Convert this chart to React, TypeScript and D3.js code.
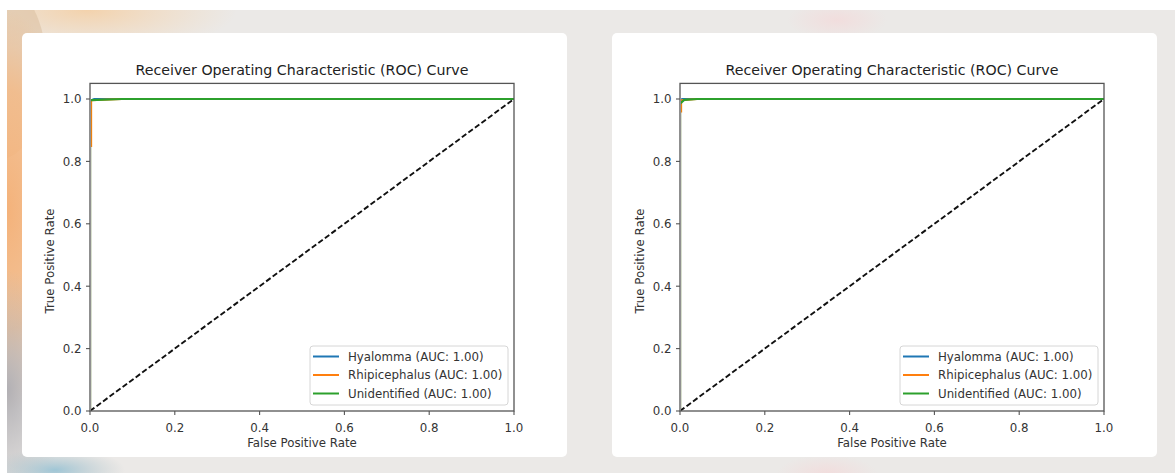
import React from 'react';
import * as d3 from 'd3';

// ROC curves (fpr / tpr pairs)
const classNames = ['Hyalomma', 'Rhipicephalus', 'Unidentified'];
const aucValues = [1.0, 1.0, 1.0];
const classColors = ['#1f77b4', '#ff7f0e', '#2ca02c'];

const leftFpr = [
  [0, 0, 0.002, 0.01, 1],
  [0, 0, 0.0025, 0.0025, 0.075, 1],
  [0, 0, 0.075, 1],
];
const leftTpr = [
  [0, 0.98, 0.995, 1, 1],
  [0, 0.85, 0.85, 0.996, 1.0, 1],
  [0, 0.996, 1.0, 1],
];

const rightFpr = [
  [0, 0, 0.005, 1],
  [0, 0, 0.0025, 0.0025, 0.04, 1],
  [0, 0, 0.01, 0.04, 1],
];
const rightTpr = [
  [0, 0.99, 1, 1],
  [0, 0.96, 0.96, 0.996, 1, 1],
  [0, 0.985, 0.997, 1, 1],
];

const tickValues = [0, 0.2, 0.4, 0.6, 0.8, 1.0];
const chartTitle = 'Receiver Operating Characteristic (ROC) Curve';
const xLabel = 'False Positive Rate';
const yLabel = 'True Positive Rate';

const FONT = 'DejaVu Sans, sans-serif';
const FS = 11.8;

interface PanelProps {
  id: string;
  cardX: number;
  axX: number;
  legendX: number;
  fpr: number[][];
  tpr: number[][];
}

const Panel: React.FC<PanelProps> = ({ id, cardX, axX, legendX, fpr, tpr }) => {
  const x = d3.scaleLinear().domain([0, 1]).range([axX, axX + 424]);
  const y = d3.scaleLinear().domain([0, 1.05]).range([411, 411 - 312 * 1.05]);
  const line = d3.line<[number, number]>().x(d => x(d[0])).y(d => y(d[1]));
  const [x0, x1] = x.range();
  const [y0, y1] = y.range();

  return (
    <g>
      <defs>
        <clipPath id={'clip' + id}>
          <rect x={x0 + 1} y={y1} width={x1 - x0 - 1} height={y0 - y1} />
        </clipPath>
      </defs>
      <rect x={cardX} y={33} width={545} height={424} rx={5} fill="#ffffff" />
      <text x={(x0 + x1) / 2} y={75} textAnchor="middle" fontSize={14.2} fill="#222" fontFamily={FONT}>
        {chartTitle}
      </text>

      <g clipPath={`url(#clip${id})`}>
        {classNames.map((name, i) => (
          <path
            key={name}
            d={line(fpr[i].map((f, j) => [f, tpr[i][j]] as [number, number])) || ''}
            fill="none"
            stroke={classColors[i]}
            strokeWidth={2.2}
          />
        ))}
        <path
          d={line([[0, 0], [1, 1]]) || ''}
          fill="none"
          stroke="#111"
          strokeWidth={1.9}
          strokeDasharray="5.5,2.6"
        />
      </g>

      {/* spines */}
      <rect x={x0} y={y1} width={x1 - x0} height={y0 - y1} fill="none" stroke="#555" strokeWidth={1.3} />

      {tickValues.map(t => (
        <g key={'x' + t}>
          <line x1={x(t)} x2={x(t)} y1={y0} y2={y0 + 4} stroke="#555" strokeWidth={1.1} />
          <text x={x(t)} y={y0 + 20.5} textAnchor="middle" fontSize={FS} fill="#333" fontFamily={FONT}>
            {t.toFixed(1)}
          </text>
        </g>
      ))}
      {tickValues.map(t => (
        <g key={'y' + t}>
          <line x1={x0 - 4} x2={x0} y1={y(t)} y2={y(t)} stroke="#555" strokeWidth={1.1} />
          <text x={x0 - 8.5} y={y(t) + 4.3} textAnchor="end" fontSize={FS} fill="#333" fontFamily={FONT}>
            {t.toFixed(1)}
          </text>
        </g>
      ))}

      <text x={(x0 + x1) / 2} y={447} textAnchor="middle" fontSize={FS} fill="#333" fontFamily={FONT}>
        {xLabel}
      </text>
      <text
        transform={`translate(${axX - 36},${(y0 + y(1)) / 2 + 6}) rotate(-90)`}
        textAnchor="middle"
        fontSize={FS}
        fill="#333"
        fontFamily={FONT}
      >
        {yLabel}
      </text>

      {/* legend */}
      <rect x={legendX} y={346} width={198} height={59} rx={3} fill="#fff" fillOpacity={0.85} stroke="#d6d6d6" strokeWidth={1} />
      {classNames.map((name, i) => (
        <g key={'lg' + name}>
          <line x1={legendX + 3} x2={legendX + 29} y1={356.5 + i * 18.5} y2={356.5 + i * 18.5} stroke={classColors[i]} strokeWidth={2} />
          <text x={legendX + 38} y={360.8 + i * 18.5} fontSize={FS} fill="#333" fontFamily={FONT}>
            {`${name} (AUC: ${aucValues[i].toFixed(2)})`}
          </text>
        </g>
      ))}
    </g>
  );
};

const App: React.FC = () => {
  return (
    <div style={{ position: 'fixed', left: 0, top: 0, width: 1175, height: 473 }}>
      <svg width={1175} height={473} style={{ display: 'block' }}>
        <defs>
          <radialGradient id="orangeBlob" cx="0.5" cy="0.5" r="0.5">
            <stop offset="0%" stopColor="#f4b27a" stopOpacity={1} />
            <stop offset="60%" stopColor="#f4b883" stopOpacity={0.8} />
            <stop offset="100%" stopColor="#f4b883" stopOpacity={0} />
          </radialGradient>
          <radialGradient id="peachBlob" cx="0.5" cy="0.5" r="0.5">
            <stop offset="0%" stopColor="#f3d2ac" stopOpacity={1} />
            <stop offset="100%" stopColor="#f3d8b8" stopOpacity={0} />
          </radialGradient>
          <radialGradient id="blueBlob" cx="0.5" cy="0.5" r="0.5">
            <stop offset="0%" stopColor="#9fc6d6" stopOpacity={1} />
            <stop offset="100%" stopColor="#b8c4c8" stopOpacity={0} />
          </radialGradient>
          <radialGradient id="grayBlob" cx="0.5" cy="0.5" r="0.5">
            <stop offset="0%" stopColor="#b2b0b4" stopOpacity={1} />
            <stop offset="100%" stopColor="#b8b6b8" stopOpacity={0} />
          </radialGradient>
          <radialGradient id="pinkBlob" cx="0.5" cy="0.5" r="0.5">
            <stop offset="0%" stopColor="#f2dcdc" stopOpacity={0.9} />
            <stop offset="100%" stopColor="#f2dcdc" stopOpacity={0} />
          </radialGradient>
        </defs>
        <rect x={0} y={0} width={1175} height={473} fill="#ffffff" />
        <svg x={7} y={10} width={1168} height={463}>
          <rect x={0} y={0} width={1168} height={463} fill="#ebe9e7" />
          <ellipse cx={80} cy={0} rx={150} ry={45} fill="url(#peachBlob)" />
          <ellipse cx={-10} cy={60} rx={50} ry={90} fill="#dcc2a4" fillOpacity={0.6} />
          <ellipse cx={0} cy={200} rx={70} ry={200} fill="url(#orangeBlob)" />
          <ellipse cx={0} cy={380} rx={60} ry={120} fill="url(#grayBlob)" />
          <ellipse cx={48} cy={460} rx={70} ry={22} fill="url(#blueBlob)" />
          <ellipse cx={830} cy={10} rx={50} ry={20} fill="url(#pinkBlob)" />
          <ellipse cx={820} cy={463} rx={50} ry={18} fill="url(#pinkBlob)" />
        </svg>
        <Panel id="L" cardX={22} axX={90} legendX={310} fpr={leftFpr} tpr={leftTpr} />
        <Panel id="R" cardX={612} axX={680} legendX={900} fpr={rightFpr} tpr={rightTpr} />
      </svg>
    </div>
  );
};

export default App;
